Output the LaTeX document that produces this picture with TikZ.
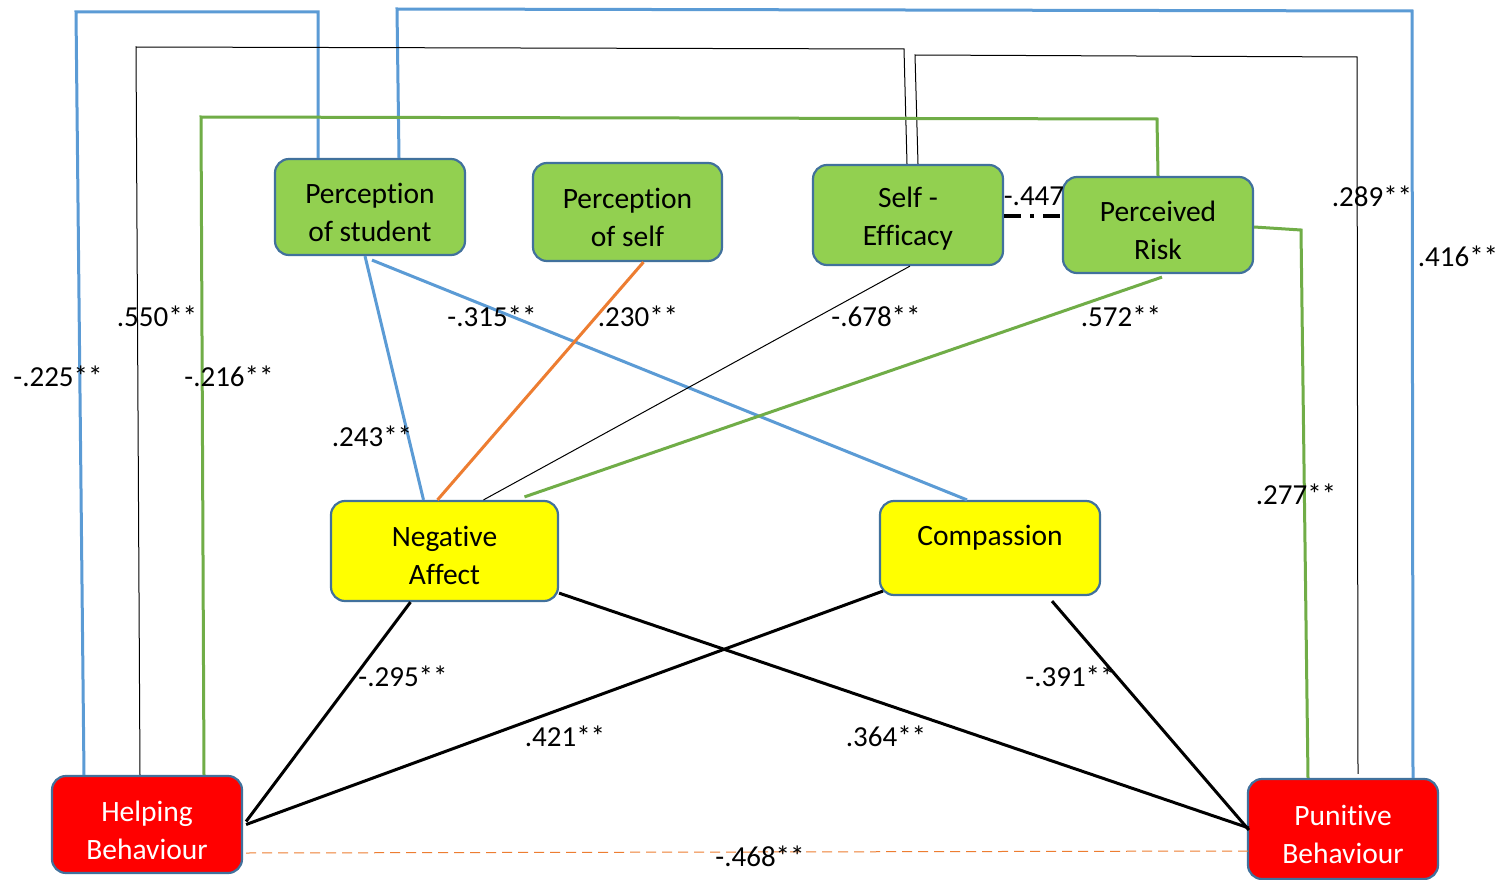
\documentclass[tikz,border=0pt]{standalone}
\usepackage{fontspec}
\setmainfont{Carlito}[RawFeature={-liga;-clig;-calt;-dlig}]
\usetikzlibrary{calc}
\definecolor{boxedge}{HTML}{41719C}
\definecolor{leaf}{HTML}{92D050}
\definecolor{sun}{HTML}{FFFF00}
\definecolor{alarm}{HTML}{FF0000}
\definecolor{lineblue}{HTML}{5B9BD5}
\definecolor{linegreen}{HTML}{70AD47}
\definecolor{lineorange}{HTML}{ED7D31}
\begin{document}
\begin{tikzpicture}[x=1pt,y=-1pt,
  box/.style={draw=boxedge,line width=2.2pt,rounded corners=14pt,inner sep=0pt},
  greenbox/.style={box,fill=leaf},
  yellowbox/.style={box,fill=sun},
  redbox/.style={box,fill=alarm},
  boxtext/.style={align=center,inner sep=0pt,font=\fontsize{29.5}{38}\selectfont},
  coef/.style={font=\fontsize{29}{34}\selectfont,inner sep=0pt,text=black},
  bluelink/.style={draw=lineblue,line width=3pt},
  greenlink/.style={draw=linegreen,line width=3pt},
  thinlink/.style={draw=black,line width=1pt},
  boldlink/.style={draw=black,line width=3pt},
]
\useasboundingbox[fill=white] (0,0) rectangle (1500,880);

% predictors
\node[greenbox,minimum width=190pt,minimum height=96pt,
  label={[boxtext,name=pst,yshift=-5pt]center:Perception\\of student}] (ps) at (370,207) {};
\node[greenbox,minimum width=189pt,minimum height=98pt,
  label={[boxtext,name=pselft,yshift=-5pt]center:Perception\\of self}] (pself) at (627.5,212) {};
\node[greenbox,minimum width=190pt,minimum height=100pt,
  label={[boxtext,name=set,yshift=-4pt]center:Self -\\Efficacy}] (se) at (908,215) {};
\node[greenbox,minimum width=190pt,minimum height=96pt,
  label={[boxtext,name=prt,yshift=-5pt]center:Perceived\\Risk}] (pr) at (1158,225) {};
% mediators
\node[yellowbox,minimum width=227pt,minimum height=100pt,
  label={[boxtext,name=nat,yshift=-4pt]center:Negative\\Affect}] (na) at (444.5,551) {};
\node[yellowbox,minimum width=220pt,minimum height=94pt,
  label={[boxtext,name=cot,yshift=10pt]center:Compassion}] (co) at (990,548) {};
% outcomes
\node[redbox,minimum width=190pt,minimum height=97pt,
  label={[boxtext,text=white,name=hbt,yshift=-5.5pt]center:Helping\\Behaviour}] (hb) at (147,824.5) {};
\node[redbox,minimum width=190pt,minimum height=100pt,
  label={[boxtext,text=white,name=pbt,yshift=-5pt]center:Punitive\\Behaviour}] (pb) at (1343,829) {};

% long elbow paths over the top
\draw[bluelink] ([xshift=-63]hb.north) -- (76,12) -- (318,12) -- ([xshift=-52]ps.north);
\draw[bluelink] ([xshift=29]ps.north) -- (397,9) -- (1412,11) -- ([xshift=70]pb.north);
\draw[thinlink] ([xshift=-7]hb.north) -- (136,47) -- (904,49) -- ([xshift=-1]se.north);
\draw[thinlink] ([xshift=10]se.north) -- (915,55) -- (1357,57) -- ([xshift=15,yshift=4]pb.north);
\draw[greenlink] ([xshift=57]hb.north) -- (201,117) -- (1157,119) -- (pr.north);
\draw[greenlink] ([yshift=-2]pr.east) -- (1301,230) -- ([xshift=-35]pb.north);

% correlation between self-efficacy and risk
\draw[draw=black,line width=4pt,dash pattern=on 17pt off 9pt on 4pt off 9pt]
  ([yshift=-1]se.east) -- ([yshift=-1]se.east -| pr.west);

% predictors to mediators
\draw[bluelink] ([xshift=-5]ps.south) -- ([xshift=-21]na.north);
\draw[bluelink] ([xshift=2,yshift=-4]ps.south) -- ([xshift=-23]co.north);
\draw[draw=lineorange,line width=3pt] ([xshift=16]pself.south) -- ([xshift=-7]na.north);
\draw[thinlink] ([xshift=2]se.south) -- ([xshift=39]na.north);
\draw[greenlink] ([xshift=4,yshift=-3]pr.south) -- ([xshift=80,yshift=3]na.north);

% mediators to outcomes
\draw[boldlink] ([xshift=-34]na.south) -- ([xshift=3,yshift=3]hb.east);
\draw[boldlink] ([xshift=4,yshift=5]co.south west) -- ([xshift=3]hb.east);
\draw[boldlink] ([yshift=9]na.south east) -- ([xshift=2,yshift=1]pb.west);
\draw[boldlink] ([xshift=62,yshift=-5]co.south) -- ([xshift=2,yshift=-1]pb.west);
\draw[draw=lineorange,line width=1pt,dash pattern=on 10pt off 6pt]
  ([xshift=3,yshift=-28.5]hb.east) -- ([xshift=2,yshift=-22]pb.west);

% coefficients
\node[coef] (c1) at (58,376) {-.225**};
\node[coef] (c2) at (157,316) {.550**};
\node[coef] (c3) at (229,376) {-.216**};
\node[coef] (c4) at (372,436) {.243**};
\node[coef] (c5) at (492,316) {-.315**};
\node[coef] (c6) at (638,316) {.230**};
\node[coef] (c7) at (876,316) {-.678**};
\node[coef] (c8) at (1121,316) {.572**};
\node[coef] (c9) at (1034,196) {-.447};
\node[coef] (c10) at (1372,196) {.289**};
\node[coef] (c11) at (1458,256) {.416**};
\node[coef] (c12) at (1296,494) {.277**};
\node[coef] (c13) at (403,676) {-.295**};
\node[coef] (c14) at (565,736) {.421**};
\node[coef] (c15) at (886,736) {.364**};
\node[coef] (c16) at (1070,676) {-.391**};
\node[coef] (c17) at (760,856) {-.468**};
\end{tikzpicture}
\end{document}
